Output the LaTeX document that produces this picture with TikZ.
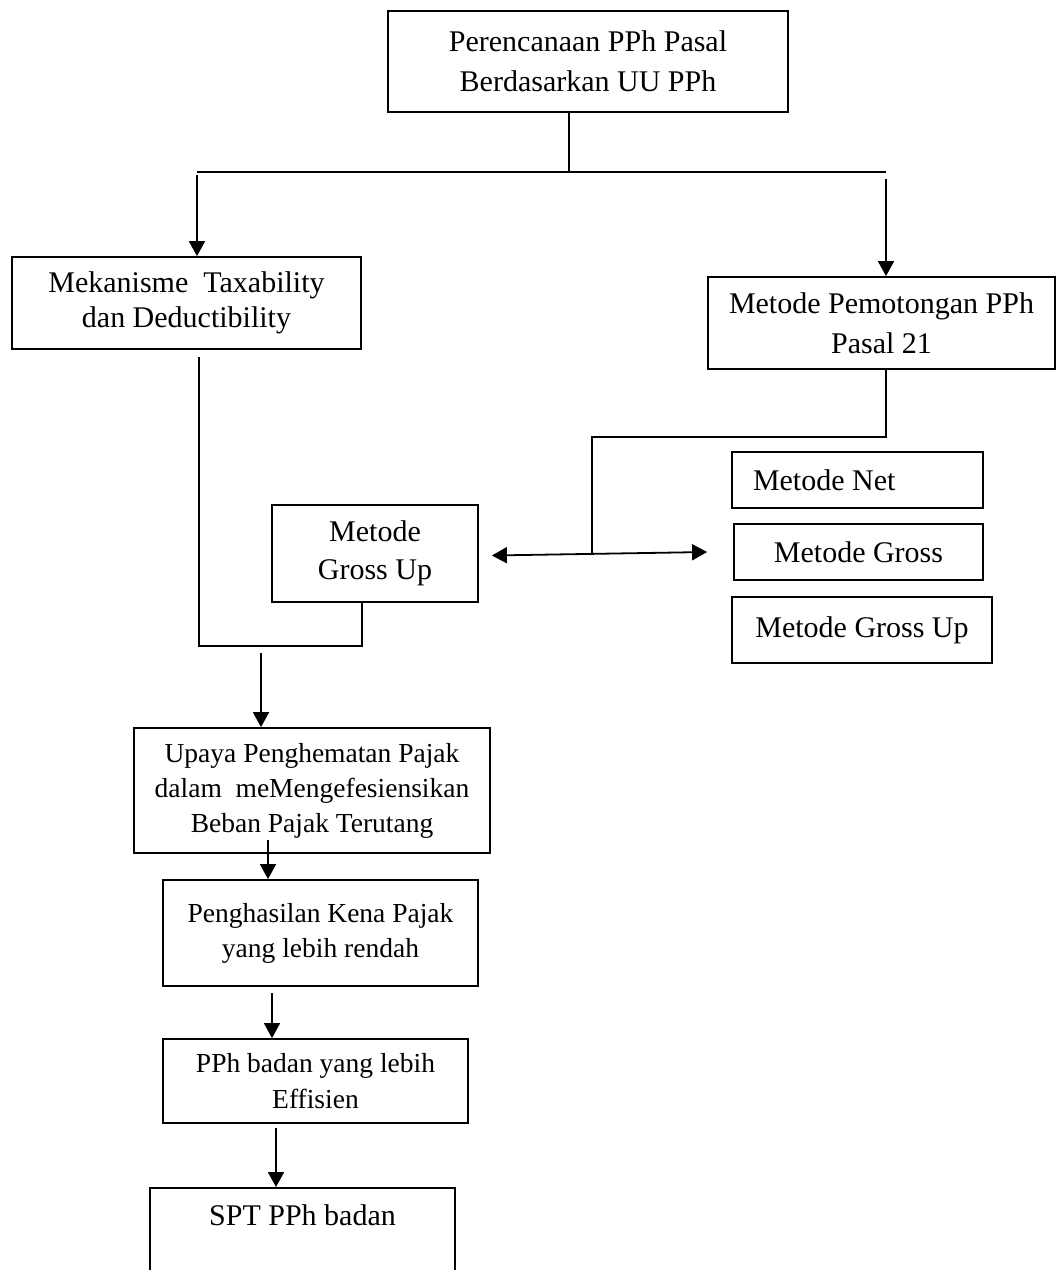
\documentclass[tikz,border=0pt]{standalone}
\usepackage{fontspec}
\setmainfont{Liberation Serif}
\usetikzlibrary{arrows.meta}
\usetikzlibrary{calc}
\usetikzlibrary{positioning}

\newcommand{\hurufbesar}{\fontsize{30}{40}\selectfont}
\newcommand{\hurufkecil}{\fontsize{27.5}{35}\selectfont}

\begin{document}
\begin{tikzpicture}[x=1pt,y=-1pt,>={Triangle[length=15pt,width=16pt]},line width=1.8pt]
	\tikzstyle{kotak}=[draw, rectangle, align=center, inner sep=0pt, font=\hurufbesar]
	\tikzstyle{kotakkecil}=[kotak, font=\hurufkecil]
	\useasboundingbox (0,0) rectangle (1057,1270);

	% kotak bagian atas
	\node[kotak, minimum width=400pt, minimum height=101pt] (rencana) at (588,61.5) {Perencanaan PPh Pasal\\Berdasarkan UU PPh};
	\node[kotak, minimum width=349pt, minimum height=92pt, font={\fontsize{30}{35}\selectfont}] (mekanisme) at (186.5,303) {Mekanisme\ \ Taxability\\dan Deductibility};
	\node[kotak, minimum width=347pt, minimum height=92pt] (potong) at (881.5,323) {Metode Pemotongan PPh\\Pasal 21};
	\node[kotak, minimum width=206pt, minimum height=97pt, font={\fontsize{30}{38}\selectfont}] (grossupkiri) at (375,553.5) {Metode\\Gross Up};

	% tiga metode
	\node[kotak, inner xsep=21pt, minimum height=56pt] (net) at (857.5,480) {\makebox[209pt][l]{Metode Net}};
	\node[kotak, minimum width=249pt, minimum height=56pt] (gross) at (858.5,552) {Metode Gross};
	\node[kotak, minimum width=260pt, minimum height=66pt] (grossup) at (862,630) {Metode Gross Up};

	% kotak bagian bawah
	\node[kotakkecil, minimum width=356pt, minimum height=125pt] (upaya) at (312,790.5) {Upaya Penghematan Pajak\\dalam\ \ meMengefesiensikan\\Beban Pajak Terutang};
	\node[kotakkecil, minimum width=315pt, minimum height=106pt] (pkp) at (320.5,933) {Penghasilan Kena Pajak\\yang lebih rendah};
	\node[kotakkecil, minimum width=305pt, minimum height=84pt, font={\fontsize{27.5}{36}\selectfont}] (badan) at (315.5,1081) {PPh badan yang lebih\\Effisien};
	\node[kotak, anchor=north, minimum width=305pt, text height=38pt, text depth=50pt] (spt) at (302.5,1187) {SPT PPh badan};

	% percabangan atas
	\coordinate (cabang) at (569,172);
	\coordinate (kiri) at (197,172);
	\coordinate (kanan) at (886,172);
	\draw (rencana.south -| cabang) -- (cabang);
	\draw (kiri) -- (kanan);
	\draw[->] ($(kiri)+(0,3)$) -- (kiri |- mekanisme.north);
	\draw[->] ($(kanan)+(0,7)$) -- (kanan |- potong.north);

	% garis kiri ke bawah
	\coordinate (a1) at (199,357);
	\coordinate (a2) at (199,646);
	\coordinate (a3) at (362,646);
	\draw (a1) -- (a2) -- (a3) -- (a3 |- grossupkiri.south);
	\coordinate (t1) at (261,653);
	\draw[->] (t1) -- (t1 |- upaya.north);

	% garis kanan ke metode
	\coordinate (b1) at (886,437);
	\coordinate (b2) at (592,437);
	\coordinate (b3) at (592,554);
	\draw (potong.south -| b1) -- (b1) -- (b2) -- (b3);
	\draw[<->] ($(grossupkiri.east)+(13,2)$) -- ($(gross.west)+(-26,0)$);

	% alur bawah
	\coordinate (c1) at (268,840);
	\coordinate (c2) at (272,993);
	\coordinate (c3) at (276,1128);
	\draw[->] (c1) -- (c1 |- pkp.north);
	\draw[->] (c2) -- (c2 |- badan.north);
	\draw[->] (c3) -- (c3 |- spt.north);
\end{tikzpicture}
\end{document}
